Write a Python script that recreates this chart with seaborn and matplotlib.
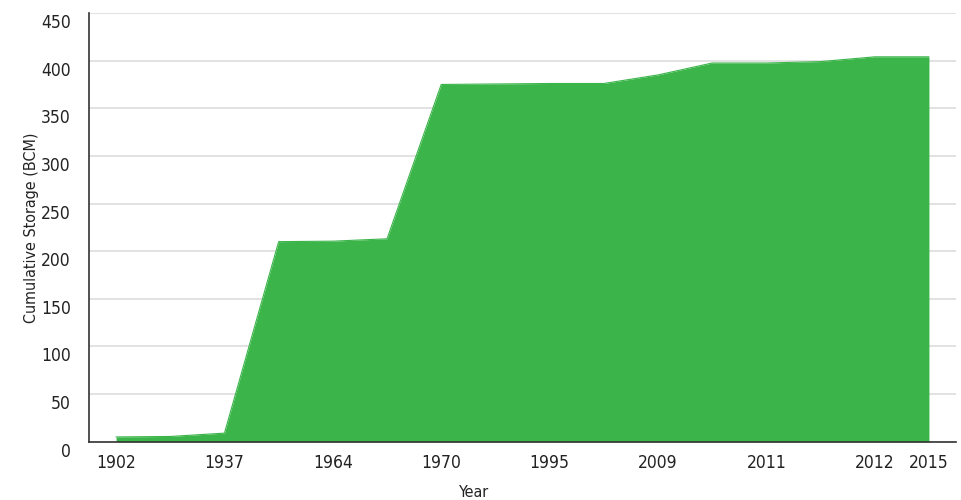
import matplotlib
matplotlib.use("Agg")
import matplotlib.pyplot as plt
import matplotlib.transforms as mtransforms
import numpy as np
import pandas as pd
import seaborn as sns

# cumulative storage (BCM), one value per step
tick_labels = ["1902", "", "1937", "", "1964", "", "1970", "", "1995", "",
               "2009", "", "2011", "", "2012", "2015"]
storage = [5, 5.5, 9, 210, 210.5, 213, 375, 375.5, 376, 376,
           385, 397.5, 397.5, 399, 404, 404]
y_ticks = [0, 50, 100, 150, 200, 250, 300, 350, 400, 450]

df = pd.DataFrame({"step": np.arange(len(storage)), "storage": storage})

sns.set_theme(style="whitegrid")
plt.rcParams["font.family"] = ["DejaVu Sans Condensed", "DejaVu Sans"]
plt.rcParams["font.stretch"] = "condensed"

fig = plt.figure(figsize=(9.62, 5), dpi=100)
ax = fig.add_axes([0.0925, 0.1166, 0.9013, 0.8574])

green = "#3bb54a"
sns.lineplot(data=df, x="step", y="storage", color=green, linewidth=0.8, ax=ax)
ax.fill_between(df["step"], df["storage"], color=green, linewidth=0, zorder=2)

ax.set_xlim(-0.5, len(storage) - 0.5)
ax.set_ylim(0, 450)
ax.set_yticks(y_ticks)
ax.set_xticks(df["step"])
ax.set_xticklabels(tick_labels)
ax.tick_params(axis="both", labelsize=12.5, colors="#222222", length=0)
ax.tick_params(axis="y", pad=13)
ax.tick_params(axis="x", pad=9)
ax.grid(axis="x", visible=False)
ax.grid(axis="y", color="#dddddd", linewidth=1.2)
ax.set_axisbelow(True)

# y labels sit a little below their grid lines in the original
shift = mtransforms.ScaledTranslation(0, -0.08, fig.dpi_scale_trans)
for lab in ax.get_yticklabels():
    lab.set_transform(lab.get_transform() + shift)

for side in ["top", "right"]:
    ax.spines[side].set_visible(False)
for side in ["left", "bottom"]:
    ax.spines[side].set_color("#333333")
    ax.spines[side].set_linewidth(1.2)

ax.set_ylabel("Cumulative Storage (BCM)", fontsize=11.5, color="#222222")
ax.set_xlabel("Year", fontsize=11.5, color="#222222")
ax.yaxis.set_label_coords(-0.058, 0.5)
ax.xaxis.set_label_coords(0.444, -0.1)

fig.savefig("out.png", dpi=100)
plt.close(fig)
